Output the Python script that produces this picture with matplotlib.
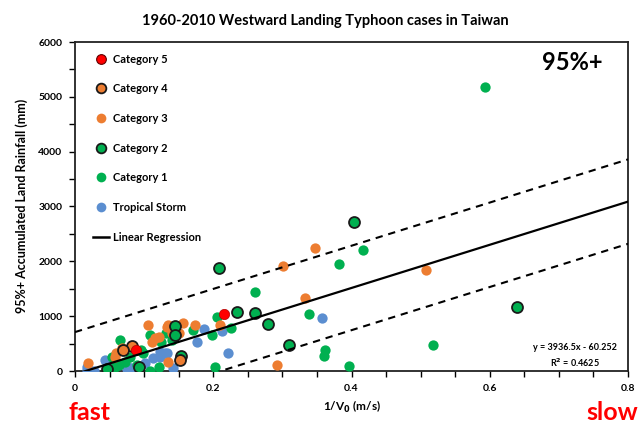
import matplotlib
matplotlib.use("Agg")
import matplotlib.pyplot as plt
from matplotlib.lines import Line2D
import numpy as np

plt.rcParams['font.family'] = ['Lato', 'DejaVu Sans']
plt.rcParams['font.weight'] = 'bold'

title = "1960-2010 Westward Landing Typhoon cases in Taiwan"
ylabel = "95%+ Accumulated Land Rainfall (mm)"
xlabel = "1/V$_0$ (m/s)"

cat5_x = [0.216, 0.088]
cat5_y = [1040, 390]

cat4_x = [0.082, 0.069, 0.152]
cat4_y = [460, 380, 195]

cat3_x = [0.347, 0.301, 0.508, 0.333, 0.292, 0.210, 0.173, 0.156, 0.133, 0.106,
          0.135, 0.116, 0.111, 0.122, 0.140, 0.068, 0.060, 0.019, 0.135, 0.058, 0.150]
cat3_y = [2249, 1915, 1851, 1326, 109, 839, 839, 870, 810, 839,
          839, 596, 535, 620, 688, 414, 323, 140, 170, 261, 700]

cat2_x = [0.404, 0.209, 0.235, 0.261, 0.279, 0.309, 0.639, 0.145, 0.145, 0.153, 0.093, 0.047]
cat2_y = [2721, 1873, 1085, 1058, 855, 474, 1173, 821, 657, 280, 78, 31]

cat1_x = [0.593, 0.417, 0.382, 0.261, 0.339, 0.518, 0.397, 0.361, 0.360, 0.205,
          0.225, 0.198, 0.171, 0.203, 0.108, 0.132, 0.140, 0.125, 0.065, 0.063,
          0.053, 0.058, 0.072, 0.099, 0.080, 0.109, 0.121, 0.089, 0.096]
cat1_y = [5180, 2210, 1944, 1438, 1040, 469, 90, 383, 268, 990,
          790, 657, 748, 78, 650, 688, 565, 535, 565, 109,
          261, 78, 170, 323, 261, 5, 78, 109, 383]

ts_x = [0.358, 0.213, 0.221, 0.187, 0.176, 0.123, 0.133, 0.113, 0.101, 0.142,
        0.080, 0.075, 0.043, 0.056, 0.017, 0.017, 0.027, 0.077, 0.130, 0.123, 0.082]
ts_y = [975, 730, 323, 766, 523, 352, 334, 232, 140, 60,
        49, 30, 200, 200, 78, 18, 5, 18, 323, 261, 49]

slope = 3936.5
intercept = -60.252
band = 770
eq_text = "y = 3936.5x - 60.252\nR$^2$ = 0.4625"

c_red = '#FF0000'
c_orange = '#ED7D31'
c_green = '#00B050'
c_blue = '#5B8ED0'

fig = plt.figure(figsize=(6.38, 4.23), dpi=100)
ax = fig.add_axes([75/638, 1-371/423, 553/638, 329/423])

s_plain = 55
s_edge = 62
ax.scatter(ts_x, ts_y, s=s_plain, color=c_blue, zorder=3, linewidths=0)
ax.scatter(cat1_x, cat1_y, s=s_plain, color=c_green, zorder=3, linewidths=0)
ax.scatter(cat3_x, cat3_y, s=s_plain, color=c_orange, zorder=3, linewidths=0)
ax.scatter(cat2_x, cat2_y, s=s_edge, color=c_green, edgecolors='#1a1a1a', linewidths=1.3, zorder=4)
ax.scatter(cat4_x, cat4_y, s=s_edge, color=c_orange, edgecolors='#1a1a1a', linewidths=1.3, zorder=4)
ax.scatter(cat5_x, cat5_y, s=s_plain, color=c_red, edgecolors='#b00000', linewidths=0.5, zorder=5)

xs = np.array([0.0, 0.8])
ax.plot(xs, slope*xs + intercept, color='black', lw=1.6, zorder=6)
ax.plot(xs, slope*xs + intercept + band, color='black', lw=1.5, ls=(0, (3.5, 2.8)), zorder=6)
ax.plot(xs, slope*xs + intercept - band, color='black', lw=1.5, ls=(0, (3.5, 2.8)), zorder=6)

ax.set_xlim(0, 0.8)
ax.set_ylim(0, 6000)
ax.set_xticks([0, 0.2, 0.4, 0.6, 0.8])
ax.set_xticklabels(['0', '0.2', '0.4', '0.6', '0.8'])
ax.set_xticks(np.arange(0, 0.81, 0.05), minor=True)
ax.set_yticks(np.arange(0, 6001, 1000))
ax.set_yticks(np.arange(0, 6001, 500), minor=True)
ax.tick_params(axis='both', which='both', direction='out', length=4, width=1.0, labelsize=7.5, pad=5)
for sp in ax.spines.values():
    sp.set_linewidth(1.3)
    sp.set_color('#222222')
for lab in ax.get_xticklabels() + ax.get_yticklabels():
    lab.set_fontweight('bold')

fig.text(325/638, 1-21/423, title, ha='center', va='center', fontsize=10.5, fontweight='bold')
fig.text(22/638, 1-(206)/423, ylabel, rotation=90, ha='center', va='center', fontsize=9, fontweight='bold')
fig.text(352/638, 1-407/423, xlabel, ha='center', va='center', fontsize=8.5, fontweight='bold')
fig.text(90/638, 1-412/423, 'fast', ha='center', va='center', fontsize=18, fontweight='bold', color='#FF0000')
fig.text(612/638, 1-412/423, 'slow', ha='center', va='center', fontsize=18, fontweight='bold', color='#FF0000')
fig.text(572/638, 1-63/423, '95%+', ha='center', va='center', fontsize=17, fontweight='bold')
fig.text(575/638, 1-356/423, eq_text, ha='center', va='center', fontsize=6.5, fontweight='bold', linespacing=1.4)

handles = [
    Line2D([], [], ls='none', marker='o', ms=7, mfc=c_red, mec='#600000', mew=0.8),
    Line2D([], [], ls='none', marker='o', ms=7, mfc=c_orange, mec='#1a1a1a', mew=1.3),
    Line2D([], [], ls='none', marker='o', ms=7, mfc=c_orange, mec=c_orange, mew=0),
    Line2D([], [], ls='none', marker='o', ms=7, mfc=c_green, mec='#1a1a1a', mew=1.3),
    Line2D([], [], ls='none', marker='o', ms=7, mfc=c_green, mec=c_green, mew=0),
    Line2D([], [], ls='none', marker='o', ms=7, mfc=c_blue, mec=c_blue, mew=0),
    Line2D([], [], color='black', lw=1.8),
]
labels = ['Category 5', 'Category 4', 'Category 3', 'Category 2', 'Category 1',
          'Tropical Storm', 'Linear Regression']
leg = ax.legend(handles, labels, loc='upper left', bbox_to_anchor=(0.015, 0.995),
                frameon=False, prop={'size': 8, 'weight': 'bold'},
                labelspacing=1.68, handlelength=1.4, handletextpad=0.4)

fig.savefig('out.png', dpi=100)
